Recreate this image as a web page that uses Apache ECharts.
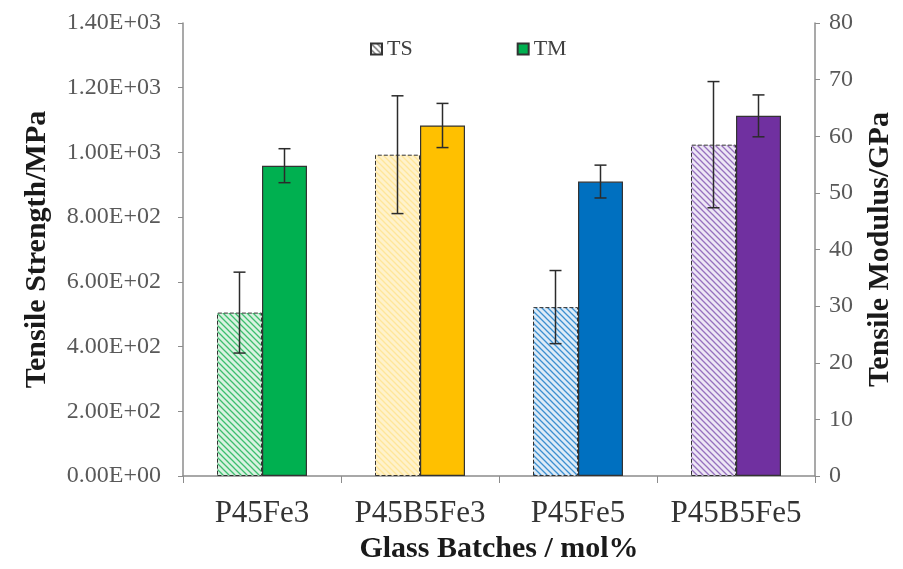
<!DOCTYPE html>
<html>
<head>
<meta charset="utf-8">
<script src="https://cdn.jsdelivr.net/npm/echarts@6/dist/echarts.min.js"></script>
<style>
html,body{margin:0;padding:0;background:#fff;}
#chart{width:903px;height:569px;}
</style>
</head>
<body>
<div id="chart"></div>
<script>
// ---- data ----
const categories = ['P45Fe3', 'P45B5Fe3', 'P45Fe5', 'P45B5Fe5'];
const tsValues = [505, 993, 522, 1024];      // Tensile strength, MPa (left axis)
const tsErrors = [125, 182, 113, 195];
const tmValues = [54.8, 61.9, 52.0, 63.6];   // Tensile modulus, GPa (right axis)
const tmErrors = [3.0, 3.9, 2.9, 3.7];
const leftTickLabels = ['0.00E+00','2.00E+02','4.00E+02','6.00E+02','8.00E+02','1.00E+03','1.20E+03','1.40E+03'];

// ---- styles ----
const tmColors = ['#00B050', '#FFC000', '#0070C0', '#7030A0'];
const tsBg = ['#D9F2E1', '#FFF2CC', '#DDEBF7', '#EDE6F5'];
const tsLine = ['#3DBE6E', '#FFE699', '#3C8FD0', '#9670BE'];
const BAR_W = 45;
const FONT = 'Liberation Serif';

function hatch(bg, line) {
  const c = document.createElement('canvas');
  c.width = 6; c.height = 6;
  const g = c.getContext('2d');
  g.fillStyle = bg; g.fillRect(0, 0, 6, 6);
  g.strokeStyle = line; g.lineWidth = 1.3;
  g.beginPath();
  g.moveTo(-1, -1); g.lineTo(7, 7);
  g.moveTo(5, -1); g.lineTo(7, 1);
  g.moveTo(-1, 5); g.lineTo(1, 7);
  g.stroke();
  return c;
}

const chart = echarts.init(document.getElementById('chart'));

function errSeries(name, vals, errs, axisIdx, offset) {
  return {
    name: name,
    type: 'custom',
    yAxisIndex: axisIdx,
    z: 10,
    silent: true,
    encode: { x: 0, y: [1, 2] },
    data: vals.map((v, i) => [i, v - errs[i], v + errs[i]]),
    renderItem: function (params, api) {
      const idx = api.value(0);
      const lo = api.coord([idx, api.value(1)]);
      const hi = api.coord([idx, api.value(2)]);
      const x = lo[0] + offset;
      const cap = 6;
      const st = { stroke: '#2b2b2b', lineWidth: 1.5 };
      return {
        type: 'group',
        children: [
          { type: 'line', shape: { x1: x, y1: hi[1], x2: x, y2: lo[1] }, style: st },
          { type: 'line', shape: { x1: x - cap, y1: hi[1], x2: x + cap, y2: hi[1] }, style: st },
          { type: 'line', shape: { x1: x - cap, y1: lo[1], x2: x + cap, y2: lo[1] }, style: st }
        ]
      };
    }
  };
}

const option = {
  backgroundColor: '#ffffff',
  animation: false,
  textStyle: { fontFamily: FONT },
  legend: {
    data: ['TS', 'TM'],
    icon: 'rect',
    left: 365,
    top: 33,
    itemWidth: 11,
    itemHeight: 11,
    itemGap: 104,
    textStyle: { fontFamily: FONT, fontSize: 22, color: '#404040' }
  },
  grid: { left: 183, right: 85, top: 23, bottom: 93, containLabel: false },
  xAxis: {
    type: 'category',
    data: categories,
    axisLine: { lineStyle: { color: '#8c8c8c', width: 1.5 } },
    axisTick: { show: true, length: 7, lineStyle: { color: '#8c8c8c' } },
    axisLabel: { fontFamily: FONT, fontSize: 31, color: '#333333', margin: 22, interval: 0, hideOverlap: false },
    name: 'Glass Batches / mol%',
    nameLocation: 'middle',
    nameGap: 56,
    nameTextStyle: { fontFamily: FONT, fontSize: 30, fontWeight: 'bold', color: '#1a1a1a' }
  },
  yAxis: [
    {
      type: 'value',
      min: 0, max: 1400, interval: 200,
      position: 'left',
      splitLine: { show: false },
      axisLine: { show: true, lineStyle: { color: '#8c8c8c', width: 1.5 } },
      axisTick: { show: true, length: 5, lineStyle: { color: '#8c8c8c' } },
      axisLabel: {
        fontFamily: FONT, fontSize: 24, color: '#595959', margin: 22,
        formatter: v => leftTickLabels[Math.round(v / 200)]
      },
      name: 'Tensile Strength/MPa',
      nameLocation: 'middle',
      nameRotate: 90,
      nameGap: 131,
      nameTextStyle: { fontFamily: FONT, fontSize: 30, fontWeight: 'bold', color: '#1a1a1a' }
    },
    {
      type: 'value',
      min: 0, max: 80, interval: 10,
      position: 'right',
      splitLine: { show: false },
      axisLine: { show: true, lineStyle: { color: '#8c8c8c', width: 1.5 } },
      axisTick: { show: true, length: 5, lineStyle: { color: '#8c8c8c' } },
      axisLabel: { fontFamily: FONT, fontSize: 24, color: '#595959', margin: 14 },
      name: 'Tensile Modulus/GPa',
      nameLocation: 'middle',
      nameRotate: 90,
      nameGap: 50,
      nameTextStyle: { fontFamily: FONT, fontSize: 30, fontWeight: 'bold', color: '#1a1a1a' }
    }
  ],
  series: [
    {
      name: 'TS',
      type: 'bar',
      yAxisIndex: 0,
      barWidth: BAR_W,
      barGap: '0%',
      itemStyle: {
        color: { image: hatch('#ffffff', '#666666'), repeat: 'repeat' },
        borderColor: '#333333', borderWidth: 1, borderType: 'dashed'
      },
      data: tsValues.map((v, i) => ({
        value: v,
        itemStyle: {
          color: { image: hatch(tsBg[i], tsLine[i]), repeat: 'repeat' },
          borderColor: '#333333', borderWidth: 1, borderType: 'dashed'
        }
      }))
    },
    {
      name: 'TM',
      type: 'bar',
      yAxisIndex: 1,
      barWidth: BAR_W,
      barGap: '0%',
      itemStyle: { color: '#00B050', borderColor: '#333333', borderWidth: 1.2 },
      data: tmValues.map((v, i) => ({
        value: v,
        itemStyle: { color: tmColors[i], borderColor: '#333333', borderWidth: 1.2 }
      }))
    },
    errSeries('TS error', tsValues, tsErrors, 0, -BAR_W / 2),
    errSeries('TM error', tmValues, tmErrors, 1, BAR_W / 2)
  ]
};

chart.setOption(option);
</script>
</body>
</html>
